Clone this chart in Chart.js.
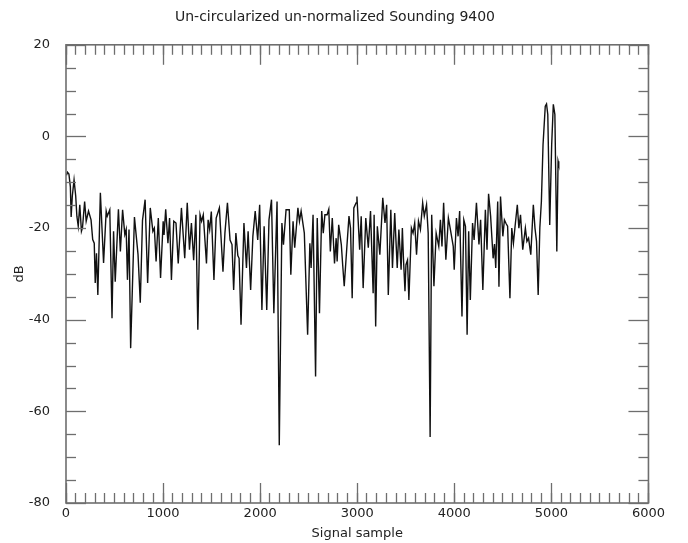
<!DOCTYPE html>
<html>
<head>
<meta charset="utf-8">
<script src="https://cdn.jsdelivr.net/npm/chart.js@4"></script>
<style>
  html, body { margin: 0; padding: 0; background: #fff; }
  #wrap { width: 688px; height: 543px; }
</style>
</head>
<body>
<div id="wrap"><canvas id="chartCanvas" width="688" height="543"></canvas></div>
<script>
// Sounding 9400
const sampleIndex = [
  5, 15, 30, 45, 53, 65, 83, 100, 112, 126, 142, 159, 170, 192, 208, 232, 258, 275, 291, 301,
  314, 328, 354, 387, 414, 425, 451, 474, 490, 507, 540, 560, 583, 606, 620, 633, 649, 666, 705, 742,
  765, 788, 815, 841, 868, 895, 910, 928, 951, 974, 1001, 1010, 1027, 1050, 1067, 1086, 1110, 1133, 1156, 1189,
  1223, 1249, 1272, 1292, 1315, 1338, 1358, 1381, 1397, 1414, 1447, 1464, 1480, 1497, 1524, 1547, 1580, 1617, 1637, 1663,
  1690, 1710, 1727, 1750, 1770, 1783, 1803, 1833, 1859, 1876, 1902, 1925, 1949, 1975, 1995, 2018, 2041, 2068, 2091, 2117,
  2141, 2174, 2197, 2224, 2240, 2267, 2300, 2316, 2339, 2356, 2389, 2405, 2422, 2455, 2489, 2512, 2525, 2545, 2571, 2588,
  2611, 2634, 2650, 2667, 2690, 2707, 2723, 2743, 2766, 2783, 2793, 2809, 2836, 2850, 2866, 2890, 2915, 2931, 2948, 2965,
  2988, 2997, 3025, 3041, 3061, 3088, 3114, 3137, 3164, 3174, 3190, 3207, 3233, 3263, 3286, 3303, 3320, 3346, 3363, 3386,
  3412, 3429, 3452, 3465, 3476, 3492, 3502, 3518, 3532, 3558, 3575, 3592, 3611, 3631, 3651, 3674, 3691, 3714, 3731, 3751,
  3767, 3790, 3813, 3840, 3857, 3873, 3890, 3913, 3939, 3963, 3989, 3999, 4022, 4039, 4055, 4079, 4098, 4115, 4132, 4148,
  4165, 4188, 4204, 4228, 4254, 4271, 4294, 4320, 4337, 4353, 4374, 4387, 4400, 4414, 4427, 4447, 4460, 4476, 4500, 4516,
  4533, 4549, 4573, 4592, 4609, 4626, 4649, 4665, 4682, 4705, 4732, 4748, 4765, 4788, 4814, 4831, 4847, 4864, 4881, 4897,
  4914, 4937, 4950, 4963, 4983, 5003, 5020, 5036, 5056, 5069, 5076
];
const dbValues = [
  -8.5, -7.8, -8.2, -11, -17.6, -13, -9.5, -13, -17.4, -19.6, -14.9, -20.7, -19.9, -14.2, -18.5, -16.3, -18.2, -22.5, -23.3, -32,
  -25.5, -34.6, -12.3, -27.6, -16.3, -17.4, -16, -39.7, -20.7, -31.7, -15.9, -25.1, -16, -21.4, -20.3, -31.3, -20.3, -46.2, -17.6, -25.8,
  -36.3, -18.3, -13.8, -32, -15.6, -20.7, -20, -27.3, -17.8, -30.9, -18.5, -21.5, -15.9, -23.3, -17.8, -31.3, -18.5, -18.9, -27.7, -15.6,
  -26.6, -14.5, -24.7, -18.9, -27, -17.1, -42.2, -17.1, -18.5, -17.1, -27.7, -18.2, -20.3, -16.4, -31.3, -17.8, -15.6, -29.5, -21.1, -14.5,
  -22.6, -23.6, -33.5, -21.1, -26, -26.6, -41.1, -18.9, -28.7, -20.7, -33.5, -21.8, -16.3, -22.6, -14.9, -37.9, -19.6, -37.9, -18.2, -13.8,
  -38.6, -14.2, -67.4, -18.9, -23.6, -16, -16, -30.2, -18.5, -24.3, -15.6, -18.5, -16.3, -21.1, -43.3, -23.3, -28.7, -17.1, -52.4, -17.8,
  -38.6, -16.3, -21.1, -17.1, -17.1, -15.9, -25.1, -17.8, -27.7, -22.2, -27.3, -19.3, -23.6, -28, -32.7, -25.1, -17.4, -20, -35.3, -15.6,
  -14.5, -13.1, -24.7, -17.4, -33.1, -17.8, -24.3, -16.3, -34.2, -17.1, -41.5, -19.6, -25.8, -13.4, -18.9, -14.9, -34.6, -16, -28.7, -16.7,
  -28.7, -20.3, -29.1, -20, -26.6, -33.8, -28, -27, -35.7, -20, -21.1, -18.9, -25.8, -18.5, -20.3, -14.5, -17.4, -14.9, -21.1, -65.6,
  -17.1, -32.7, -21.1, -24, -18.2, -24, -14.5, -26.9, -17.8, -20.7, -24, -29.1, -17.8, -21.8, -16.3, -39.3, -18.2, -19.6, -43.3, -20.7,
  -35.7, -18.9, -22.6, -14.5, -23.6, -18.2, -33.5, -16, -24.7, -12.5, -17.4, -22, -26.6, -23.5, -28.7, -14.2, -32.8, -13.1, -21.8, -18.2,
  -19, -19.6, -35.3, -20, -23.3, -19.6, -14.9, -20, -17.1, -24.7, -20, -22.9, -22.2, -25.8, -14.9, -20, -22.9, -34.6, -20, -14.2,
  -1.8, 6.6, 7.1, 4.8, -19.3, -1.8, 7.0, 4.8, -25.1, -5.4, -6.1
];
const xTickLabels = [0, 1000, 2000, 3000, 4000, 5000, 6000];
const yTickLabels = [-80, -60, -40, -20, 0, 20];

const FONT = "'DejaVu Sans', sans-serif";
const AXIS_COLOR = "#6e6e6e";

// every 100 samples, for the minor x tick marks
const xMinorTicks = [];
for (let v = xTickLabels[0]; v <= xTickLabels[xTickLabels.length - 1]; v += 100) xMinorTicks.push(v);

// y tick marks (inward, both sides) and the box; x tick marks come from the extra axes below
const boxTicks = {
  id: "boxTicks",
  afterDraw(chart) {
    const { ctx, chartArea: a } = chart;
    const ys = chart.scales.y;
    const y0 = yTickLabels[0], y1 = yTickLabels[yTickLabels.length - 1];
    const w = 1.3;
    ctx.save();
    ctx.fillStyle = AXIS_COLOR;
    for (let v = y0; v <= y1; v += 5) {
      const py = Math.round(ys.getPixelForValue(v)) + 0.5 - w / 2;
      const len = v % 20 === 0 ? 20 : 10;
      ctx.fillRect(a.left, py, len, w);
      ctx.fillRect(a.right - len, py, len, w);
    }
    ctx.strokeStyle = AXIS_COLOR;
    ctx.lineWidth = 1.6;
    ctx.strokeRect(a.left, a.top, a.right - a.left, a.bottom - a.top);
    ctx.restore();
  },
};

// an x axis with no labels, only inward tick marks (negative tickLength)
function tickAxis(position, values, len, weight) {
  return {
    type: "linear",
    position: position,
    weight: weight,
    min: 0,
    max: 6000,
    afterBuildTicks: (s) => { s.ticks = values.map((v) => ({ value: v })); },
    afterFit: (s) => { s.height = 0; },
    border: { display: false },
    grid: {
      display: true,
      drawOnChartArea: false,
      drawTicks: true,
      tickLength: -len,
      tickColor: AXIS_COLOR,
      tickWidth: 1.3,
    },
    ticks: { display: false },
  };
}

const points = sampleIndex.map((s, i) => ({ x: s, y: dbValues[i] }));

new Chart(document.getElementById("chartCanvas"), {
  type: "line",
  data: {
    datasets: [{
      data: points,
      borderColor: "#111",
      borderWidth: 1.4,
      pointRadius: 0,
      tension: 0,
      fill: false,
    }],
  },
  options: {
    responsive: false,
    animation: false,
    layout: { padding: { left: 0, right: 18, top: 0, bottom: 0 } },
    plugins: {
      legend: { display: false },
      tooltip: { enabled: false },
      title: {
        display: true,
        text: "Un-circularized un-normalized Sounding 9400",
        color: "#222",
        font: { family: FONT, size: 14, weight: "normal" },
        padding: { top: 9, bottom: 19 },
      },
    },
    scales: {
      x: {
        type: "linear",
        position: "bottom",
        weight: 1,
        min: 0,
        max: 6000,
        afterBuildTicks: (s) => { s.ticks = xTickLabels.map((v) => ({ value: v })); },
        afterFit: (s) => { s.height = 40; },
        grid: {
          display: true,
          drawOnChartArea: false,
          drawTicks: true,
          tickLength: -20,
          tickColor: AXIS_COLOR,
          tickWidth: 1.3,
        },
        border: { display: false },
        ticks: {
          color: "#222",
          font: { family: FONT, size: 13 },
          padding: 23,
          maxRotation: 0,
          autoSkip: false,
          callback: (v) => String(v),
        },
        title: {
          display: true,
          text: "Signal sample",
          color: "#222",
          font: { family: FONT, size: 13 },
          padding: { top: 0, bottom: 2 },
        },
      },
      xMinor: tickAxis("bottom", xMinorTicks, 10, 0),
      xTop: tickAxis("top", xTickLabels, 20, 0),
      xTopMinor: tickAxis("top", xMinorTicks, 10, 1),
      y: {
        type: "linear",
        min: -80,
        max: 20,
        afterBuildTicks: (s) => { s.ticks = yTickLabels.map((v) => ({ value: v })); },
        afterFit: (s) => { s.width = 66; },
        grid: { display: false },
        border: { display: false },
        ticks: {
          color: "#222",
          font: { family: FONT, size: 13 },
          padding: 8,
          autoSkip: false,
          callback: (v) => String(v),
        },
        title: {
          display: true,
          text: "dB",
          color: "#222",
          font: { family: FONT, size: 13 },
          padding: { top: 12, bottom: 0 },
        },
      },
    },
  },
  plugins: [boxTicks],
});
</script>
</body>
</html>
